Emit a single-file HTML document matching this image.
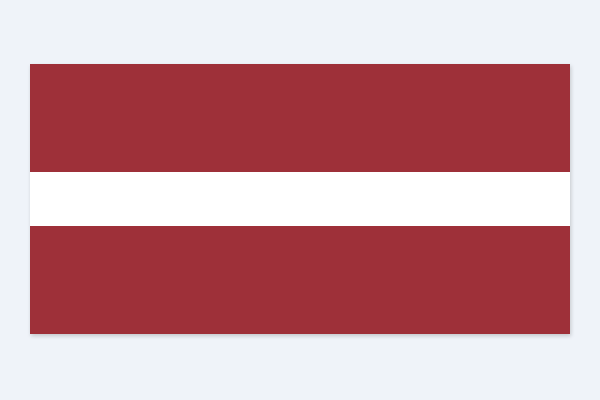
<!DOCTYPE html>
<html><head><meta charset="utf-8"><style>
html,body{margin:0;padding:0;width:600px;height:400px;background:#eff3f9;overflow:hidden}
.flag{position:absolute;left:30px;top:64px;width:540px;height:270px;box-shadow:1px 2px 4px rgba(0,0,0,0.18)}
.band{position:absolute;left:0;width:540px}
</style></head><body>
<div class="flag">
<div class="band" style="top:0;height:108px;background:#9e3039"></div>
<div class="band" style="top:108px;height:54px;background:#ffffff"></div>
<div class="band" style="top:162px;height:108px;background:#9e3039"></div>
</div>
</body></html>
